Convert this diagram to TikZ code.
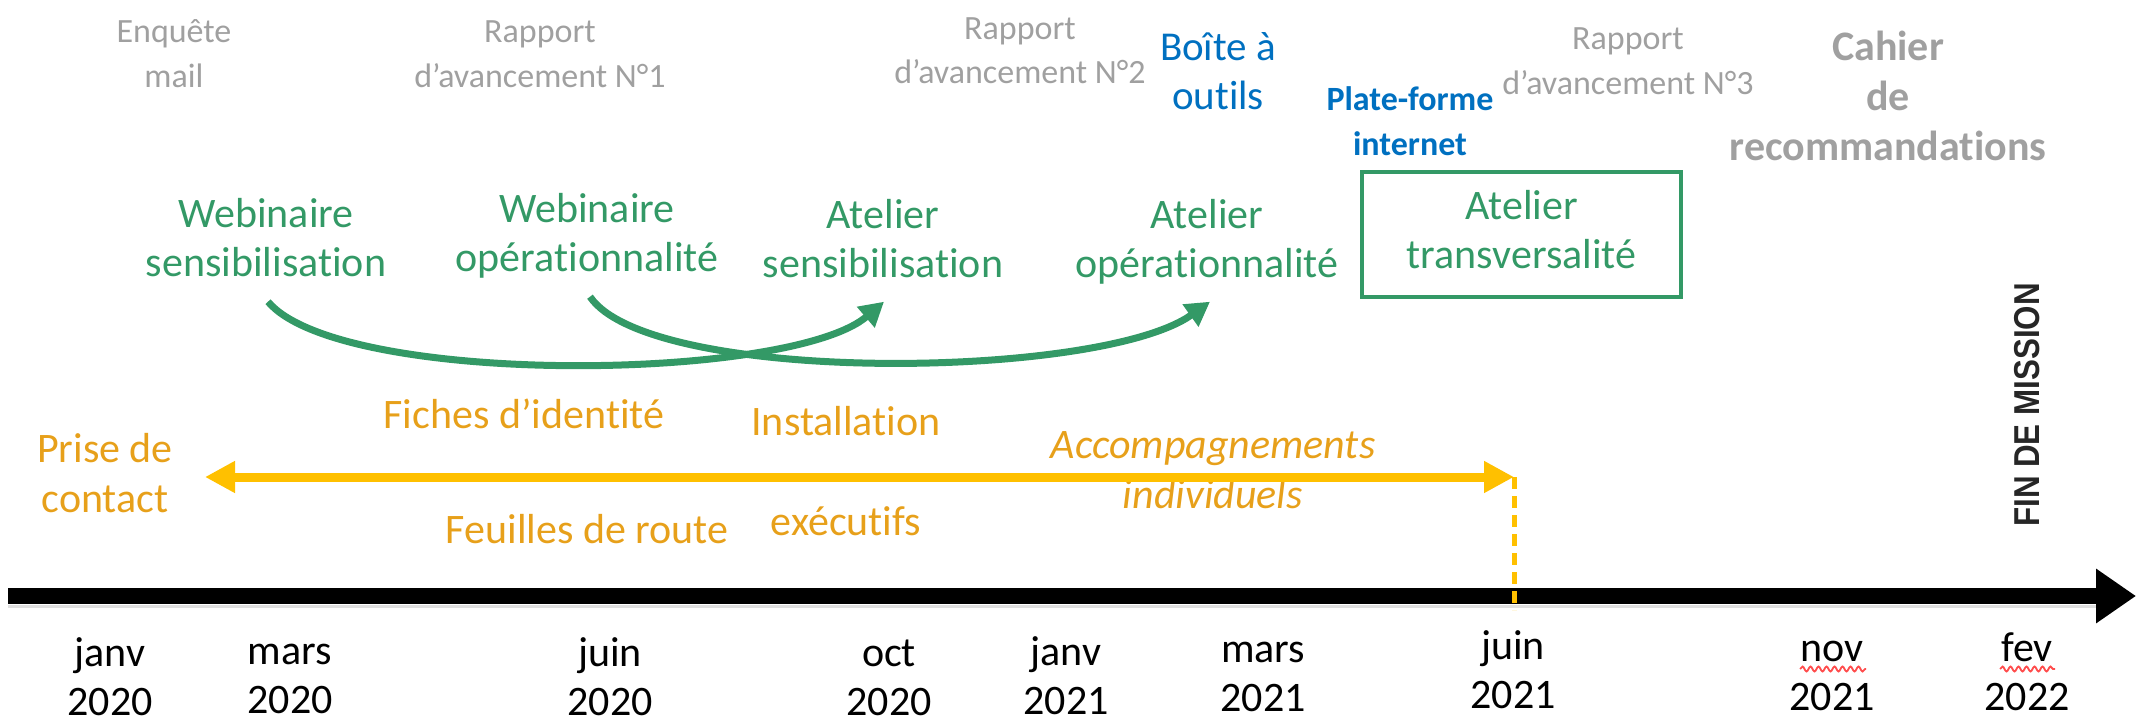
\documentclass[tikz,border=0pt]{standalone}
\usepackage{fontspec}
\setmainfont{Carlito}[Ligatures={NoCommon}]
\newfontfamily\finfont{Liberation Sans}
\usetikzlibrary{arrows.meta,calc,decorations.pathmorphing}
\definecolor{tgray}{RGB}{160,160,160}
\definecolor{tblue}{RGB}{0,112,192}
\definecolor{tgreen}{RGB}{51,153,102}
\definecolor{torange}{RGB}{231,160,26}
\definecolor{tyellow}{RGB}{255,192,0}
\begin{document}
\begin{tikzpicture}[x=1pt,y=-1pt,
  lbl/.style={inner sep=0pt, outer sep=0pt, anchor=north, align=center},
  grayt/.style={lbl, text=tgray, font=\fontsize{34}{44}\selectfont},
  cahiert/.style={lbl, text=tgray, font=\bfseries\fontsize{42}{50}\selectfont},
  bluet/.style={lbl, text=tblue, font=\fontsize{41}{50}\selectfont},
  bluebold/.style={lbl, text=tblue, font=\bfseries\fontsize{34}{45}\selectfont},
  greent/.style={lbl, text=tgreen, font=\fontsize{42}{49}\selectfont},
  oranget/.style={lbl, text=torange, font=\fontsize{42}{50}\selectfont},
  datet/.style={lbl, text=black, font=\fontsize{42}{49}\selectfont},
  garrow/.style={draw=tgreen, line width=7pt, -{Triangle[length=24pt,width=26pt]}},
  squig/.style={draw=red!70, line width=1.8pt, decorate, decoration={snake, segment length=8pt, amplitude=2.5pt}}
]
\useasboundingbox (0,0) rectangle (2136,725);

% grey deliverables
\node[grayt] (enq) at (174,12.2) {\strut Enquête\\mail\strut};
\node[grayt] (r1) at (540,12.2) {\strut Rapport\\d’avancement N°1\strut};
\node[grayt] (r2) at (1020,9.2) {\strut Rapport\\d’avancement N°2\strut};
\node[grayt] (r3) at (1628,19.2) {\strut Rapport\\d’avancement N°3\strut};
\node[cahiert] (cah) at (1888,25) {\strut Cahier\\de\\recommandations\strut};

% blue tools
\node[bluet] (boite) at (1218,25) {\strut Boîte à\\outils\strut};
\node[bluebold] (plat) at (1410,78.5) {\strut Plate-forme\\internet\strut};

% green events
\node[greent] (ws) at (266,192.7) {\strut Webinaire\\sensibilisation\strut};
\node[greent] (wo) at (587,187.7) {\strut Webinaire\\opérationnalité\strut};
\node[greent] (as) at (883,193.7) {\strut Atelier\\sensibilisation\strut};
\node[greent] (ao) at (1207,193.7) {\strut Atelier\\opérationnalité\strut};
\node[greent, anchor=center, draw=tgreen, line width=4pt, minimum width=319pt, minimum height=125pt] (at) at (1521.5,234.5) {\strut Atelier\\transversalité\strut};

\draw[garrow] ($(ws.south)+(2,11)$) .. controls (340,387) and (790,382) .. ($(as.south)+(1,10)$);
\draw[garrow] ($(wo.south)+(3,11)$) .. controls (650,385) and (1100,380) .. ($(ao.south)+(3,10)$);

% orange accompaniment
\node[oranget] (pc) at (105,427) {\strut Prise de\\contact\strut};
\node[oranget] (fi) at (524,393) {\strut Fiches d’identité\strut};
\node[oranget] (ins) at (846,400) {\strut Installation\strut};
\node[oranget] (fr) at (587,508) {\strut Feuilles de route\strut};
\node[oranget] (ex) at (846,500) {\strut exécutifs\strut};
\node[oranget, font=\itshape\fontsize{42}{50}\selectfont] (acc) at (1213,423) {\strut Accompagnements\\individuels\strut};

% time axis
\coordinate (axL) at (8,596);
\coordinate (axR) at (2136,596);
\draw[gray!25, line width=3pt] ($(axL)+(0,10)$) -- ($(axR)+(-40,10)$);
\draw[black, line width=16pt, -{Triangle[length=40pt,width=52pt]}] (axL) -- (axR);

% yellow arrow
\coordinate (yL) at (205,477);
\coordinate (yR) at (1514,477);
\coordinate (yD) at (1514,610);
\draw[tyellow, line width=9pt, {Triangle[length=30pt,width=30pt]}-{Triangle[length=30pt,width=30pt]}] (yL) -- (yR);
\draw[tyellow, line width=5pt, dash pattern=on 12pt off 7pt] (yR) -- (yD);

% dates
\node[datet] (d1) at (110,632) {\strut janv\\2020};
\node[datet] (d2) at (290,630) {\strut mars\\2020};
\node[datet] (d3) at (610,632) {\strut juin\\2020};
\node[datet] (d4) at (889,632) {\strut oct\\2020};
\node[datet] (d5) at (1066,631) {\strut janv\\2021};
\node[datet] (d6) at (1263,628) {\strut mars\\2021};
\node[datet] (d7) at (1513,625) {\strut juin\\2021};
\node[datet] (d8) at (1832,627) {\strut nov\\2021};
\node[datet] (d9) at (2027,627) {\strut fev\\2022};
\draw[squig] (1800,669) -- (1866,669);
\draw[squig] (2000,669) -- (2055,669);

% end of mission
\node[rotate=90, inner sep=0pt, text=black!85, font=\finfont\bfseries\fontsize{36}{40}\selectfont] (fin) at (2027,405) {\scalebox{0.87}[1]{FIN DE MISSION}};
\end{tikzpicture}
\end{document}
